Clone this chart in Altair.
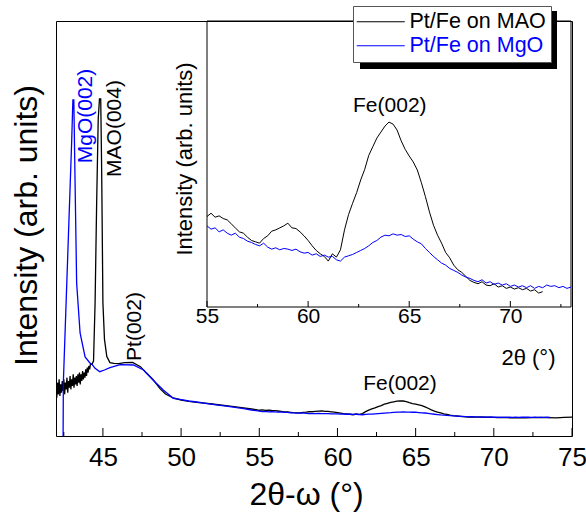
import altair as alt
import pandas as pd

FONT = "Liberation Sans"
MAO = "Pt/Fe on MAO"
MGO = "Pt/Fe on MgO"
series_names = [MAO, MGO]
series_colors = ["#000000", "#0000ff"]

# ---- Pt/Fe on MAO (black) ----
mao_2theta_low = [42.00, 42.05, 42.10, 42.15, 42.20, 42.25, 42.30, 42.35, 42.40, 42.45,
                  42.50, 42.55, 42.60, 42.65, 42.70, 42.75, 42.80, 42.85, 42.90, 42.95,
                  43.00, 43.05, 43.10, 43.15, 43.20, 43.25, 43.30, 43.35, 43.40, 43.45,
                  43.50, 43.55, 43.60, 43.65, 43.70, 43.75, 43.80, 43.85, 43.90, 43.95,
                  44.00, 44.05, 44.10, 44.15, 44.20, 44.30, 44.40, 44.50, 44.60, 44.70,
                  44.78, 44.86, 44.92, 45.00, 45.10, 45.25, 45.45, 45.70, 46.00, 46.40,
                  46.90, 47.40, 47.80, 48.20, 48.65, 49.00, 49.50, 50.00, 50.50, 51.00,
                  51.50, 52.00, 52.50, 53.00, 53.50, 54.00, 54.50, 54.80]
mao_int_low = [1500, 1150, 1600, 1250, 1700, 1200, 1550, 1300, 1650, 1350,
               1700, 1250, 1600, 1400, 1750, 1300, 1650, 1450, 1800, 1400,
               1700, 1500, 1850, 1450, 1750, 1550, 1800, 1500, 1850, 1600,
               1900, 1550, 1850, 1650, 1950, 1700, 1900, 1750, 2000, 1800,
               2050, 1900, 2100, 2000, 2150, 2150, 2250, 4000, 7000, 9500,
               10110, 10110, 8000, 4000, 2900, 2380, 2200, 2180, 2170, 2200,
               2210, 2080, 1880, 1700, 1420, 1260, 1140, 1080, 1040, 1010,
               985, 960, 930, 905, 875, 845, 810, 790]
mao_2theta_fe = [round(55 + 0.2 * i, 1) for i in range(84)]
mao_int_fe = [772, 782, 770, 774, 766, 762, 750, 738, 726, 722,
              710, 700, 696, 692, 706, 714, 728, 732, 738, 744,
              752, 738, 736, 726, 714, 700, 684, 670, 660, 652,
              638, 660, 650, 672, 732, 778, 812, 844, 882, 914,
              956, 982, 1008, 1026, 1044, 1056, 1050, 1032, 1000, 974,
              954, 936, 912, 874, 832, 786, 746, 716, 692, 664,
              648, 626, 612, 604, 592, 580, 574, 570, 576, 566,
              564, 570, 560, 564, 556, 560, 554, 558, 552, 556,
              548, 552, 542, 546]
mao_2theta_tail = [71.8, 72.0, 72.5, 73.0, 73.5, 74.0, 74.5, 75.0]
mao_int_tail = [550, 548, 552, 556, 550, 546, 560, 565]

# ---- Pt/Fe on MgO (blue) ----
mgo_2theta_low = [42.45, 42.47, 42.75, 43.00, 43.08, 43.14, 43.22, 43.32, 43.54, 43.86,
                  44.17, 44.30, 44.50, 44.80, 45.10, 45.45, 46.10, 46.95, 47.60, 48.20,
                  48.86, 49.50, 50.00, 50.50, 51.00, 52.00, 53.00, 54.00, 54.50, 54.80]
mgo_int_low = [-400, 1600, 5400, 8800, 10080, 10080, 7590, 4590, 3090, 2370,
               2190, 2150, 2030, 1930, 1980, 2050, 2140, 2130, 1980, 1680,
               1380, 1130, 1090, 1050, 1020, 950, 890, 820, 780, 760]
mgo_2theta_fe = [round(55 + 0.2 * i, 1) for i in range(91)]
mgo_int_fe = [744, 734, 738, 726, 732, 722, 716, 722, 710, 706,
              698, 694, 688, 684, 692, 680, 674, 678, 672, 676,
              674, 670, 674, 666, 662, 664, 656, 660, 652, 656,
              650, 652, 642, 638, 650, 654, 658, 664, 670, 676,
              684, 694, 700, 710, 716, 714, 720, 716, 718, 712,
              714, 704, 696, 690, 676, 664, 652, 642, 632, 626,
              616, 610, 604, 596, 590, 586, 580, 576, 582, 572,
              576, 568, 572, 566, 570, 562, 566, 560, 564, 558,
              564, 556, 562, 558, 566, 562, 564, 558, 562, 556,
              560]
mgo_2theta_tail = [73.2, 73.4, 73.6]
mgo_int_tail = [558, 562, 555]

mao_2theta = mao_2theta_low + mao_2theta_fe + mao_2theta_tail
mao_intensity = mao_int_low + mao_int_fe + mao_int_tail
mgo_2theta = mgo_2theta_low + mgo_2theta_fe + mgo_2theta_tail
mgo_intensity = mgo_int_low + mgo_int_fe + mgo_int_tail

# tick values
main_major = [45, 50, 55, 60, 65, 70, 75]
main_minor = [42.5, 47.5, 52.5, 57.5, 62.5, 67.5, 72.5]
inset_major = [55, 60, 65, 70]
inset_minor = [57.5, 62.5, 67.5, 72.5]

# peak labels
main_label_text = ["MgO(002)", "MAO(004)", "Pt(002)", "Fe(002)"]
main_label_x = [43.95, 45.78, 47.05, 64.0]
main_label_y = [9600, 9225, 3285, 1575]
main_label_color = ["#0000ff", "#000000", "#000000", "#000000"]
main_label_angle = [270, 270, 270, 0]
inset_label_text = ["Fe(002)"]
inset_label_x = [64.04]
inset_label_y = [1103]

df = pd.DataFrame({
    "two_theta": mao_2theta + mgo_2theta,
    "intensity": mao_intensity + mgo_intensity,
    "sample": [MAO] * len(mao_2theta) + [MGO] * len(mgo_2theta),
})
inset_df = df[(df.two_theta >= 54.99) & (
    ((df["sample"] == MAO) & (df.two_theta <= 71.61)) |
    ((df["sample"] == MGO) & (df.two_theta <= 73.01)))]

W, H = 516, 415
IN_BOTTOM = 286
xs_main = alt.Scale(domain=[42, 75], nice=False, zero=False)
ys_main = alt.Scale(domain=[0, 12450], nice=False, zero=False)
xs_in = alt.Scale(domain=[55, 73], range=[151, 515], nice=False, zero=False)
ys_in = alt.Scale(domain=[500, 1360], range=[IN_BOTTOM, 0], nice=False, zero=False)
color_scale = alt.Scale(domain=series_names, range=series_colors)

x_axis_main = alt.Axis(
    orient="bottom", values=main_major, ticks=False, domain=False, grid=False,
    labelFontSize=26, labelPadding=8, labelFlush=False, labelOverlap=False,
    title="2θ-ω (°)", titleFontSize=32, titleX=250, titleY=68,
    titleBaseline="alphabetic", titleAlign="center")
y_axis_main = alt.Axis(
    orient="left", ticks=False, labels=False, domain=False, grid=False,
    title="Intensity (arb. units)", titleFontSize=32, titlePadding=13, titleY=204)
x_axis_in = alt.Axis(
    orient="bottom", values=inset_major, offset=IN_BOTTOM - H, ticks=False,
    domain=False, grid=False,
    labelFontSize=21, labelPadding=-2, labelFlush=False, labelOverlap=False,
    title="2θ (°)", titleFontSize=22, titleX=499, titleY=57,
    titleAlign="right", titleBaseline="alphabetic")
y_axis_in = alt.Axis(
    orient="left", offset=-151, ticks=False, labels=False, domain=False, grid=False,
    title="Intensity (arb. units)", titleFontSize=22, titlePadding=11, titleY=137.5)

legend = alt.Legend(
    title=None, orient="none", legendX=297, legendY=-15,
    fillColor="white", strokeColor="#555555", padding=5,
    symbolType="M-4.8,0H4.8", symbolSize=100, symbolStrokeWidth=1.2,
    symbolOffset=12, labelOffset=18, labelFontSize=21.5, labelFont=FONT,
    rowPadding=1,
    labelColor={"expr": "datum.value === 'Pt/Fe on MgO' ? '#0000ff' : '#000000'"})

one = pd.DataFrame({"a": [0]})
shadow = alt.Chart(one).mark_rect(color="black", clip=False).encode(
    x=alt.value(304), x2=alt.value(501), y=alt.value(-10), y2=alt.value(48))


def tick_rules(values, scale, axis, base, size):
    d = pd.DataFrame({"v": values})
    return alt.Chart(d).mark_rule(color="black", strokeWidth=1).encode(
        x=alt.X("v:Q", scale=scale, axis=axis),
        y=alt.value(base), y2=alt.value(base - size))


main_lines = alt.Chart(df).mark_line(clip=True, strokeWidth=1.3).encode(
    x=alt.X("two_theta:Q", scale=xs_main, axis=x_axis_main),
    y=alt.Y("intensity:Q", scale=ys_main, axis=y_axis_main),
    color=alt.Color("sample:N", scale=color_scale, legend=legend),
)

main_texts = []
for t, xv, yv, c, a in zip(main_label_text, main_label_x, main_label_y,
                           main_label_color, main_label_angle):
    d = pd.DataFrame({"x": [xv], "y": [yv], "label": [t]})
    main_texts.append(
        alt.Chart(d).mark_text(font=FONT, fontSize=21, color=c, angle=a).encode(
            x=alt.X("x:Q", scale=xs_main, axis=x_axis_main),
            y=alt.Y("y:Q", scale=ys_main, axis=y_axis_main),
            text="label:N"))

main_group = alt.layer(
    main_lines,
    tick_rules(main_major, xs_main, x_axis_main, H, 8),
    tick_rules(main_minor, xs_main, x_axis_main, H, 4),
    *main_texts,
)

frame_df = pd.DataFrame({"x0": [55], "x1": [73], "y0": [500], "y1": [1360]})
inset_frame = alt.Chart(frame_df).mark_rect(
    fill="white", fillOpacity=0, stroke="black", strokeWidth=1).encode(
    x=alt.X("x0:Q", scale=xs_in, axis=x_axis_in), x2="x1:Q",
    y=alt.Y("y0:Q", scale=ys_in, axis=y_axis_in), y2="y1:Q")
inset_lines = alt.Chart(inset_df).mark_line(strokeWidth=1.0).encode(
    x=alt.X("two_theta:Q", scale=xs_in, axis=x_axis_in),
    y=alt.Y("intensity:Q", scale=ys_in, axis=y_axis_in),
    color=alt.Color("sample:N", scale=color_scale, legend=None),
)
inset_text = alt.Chart(pd.DataFrame({"x": inset_label_x, "y": inset_label_y,
                                     "label": inset_label_text})).mark_text(
    font=FONT, fontSize=21, color="black").encode(
    x=alt.X("x:Q", scale=xs_in, axis=x_axis_in),
    y=alt.Y("y:Q", scale=ys_in, axis=y_axis_in),
    text="label:N")
inset_group = alt.layer(
    inset_frame, inset_lines,
    tick_rules(inset_major, xs_in, x_axis_in, IN_BOTTOM, 6),
    tick_rules(inset_minor, xs_in, x_axis_in, IN_BOTTOM, 3),
    inset_text,
    shadow,
)

chart = alt.layer(main_group, inset_group).resolve_scale(
    x="independent", y="independent"
).properties(
    width=W, height=H,
    autosize=alt.AutoSizeParams(type="none"),
    padding={"left": 56, "top": 21, "right": 14, "bottom": 78},
    background="white",
).configure_view(
    stroke="black", strokeWidth=1
).configure_axis(
    labelFont=FONT, titleFont=FONT, labelColor="black", titleColor="black",
    titleFontWeight="normal", grid=False
)

chart.save("out.html", embed_options={"renderer": "svg", "actions": False})
